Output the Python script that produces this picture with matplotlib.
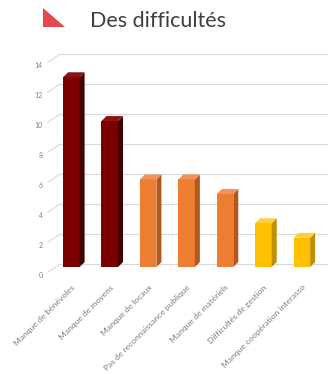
"""Bar chart with a fake 3D look: 'Des difficultés'."""
import matplotlib.pyplot as plt
from matplotlib.patches import Polygon
import matplotlib.transforms as mtransforms

categories = ["Manque de bénévoles", "Manque de moyens", "Manque de locaux",
              "Pas de reconnaissance publique", "Manque de matériels",
              "Difficultés de gestion", "Manque coopération interasso"]
values = [13, 10, 6, 6, 5, 3, 2]
front_colors = ["#7B0000", "#7B0000", "#ED7D31", "#ED7D31", "#ED7D31",
                "#FFC000", "#FFC000"]
side_colors = ["#420000", "#420000", "#B3571B", "#B3571B", "#B3571B",
               "#BF8F00", "#BF8F00"]
top_colors = ["#8E1010", "#8E1010", "#F0925A", "#F0925A", "#F0925A",
              "#FFCF40", "#FFCF40"]
yticks = [0, 2, 4, 6, 8, 10, 12, 14]

plt.rcParams["font.family"] = ["Lato", "DejaVu Sans"]

fig = plt.figure(figsize=(3.28, 3.74), dpi=100)
fig.patch.set_facecolor("white")
ax = fig.add_axes([0.146, 0.286, 0.854, 0.5465])

W = 0.43     # bar width
DX = 0.13    # depth offset in x (data units)
DY = 0.34    # depth offset in y (data units)
xs = list(range(len(values)))

ax.set_xlim(-0.61, 6.68)
ax.set_ylim(0, 14)

# back wall grid + slanted ticks
x0 = 0.043
blend = mtransforms.blended_transform_factory(ax.transAxes, ax.transData)
for v in yticks:
    g = v * 1.027 + 0.2          # wall sits slightly behind the bars
    ax.plot([x0, 1.0], [g, g], transform=blend,
            color="#D9D9D9", lw=0.8, zorder=0, clip_on=False)
    ax.plot([0.0, x0], [g - 0.75 + 0.2, g], transform=blend,
            color="#D9D9D9", lw=0.8, zorder=0, clip_on=False)
    ax.text(-0.018, g - 0.75, str(v), transform=blend, ha="right",
            va="center", fontsize=5, color="#808080")

bars = ax.bar(xs, values, width=W, color=front_colors, zorder=3,
              edgecolor="none", clip_on=False)
for x, v, sc, tc in zip(xs, values, side_colors, top_colors):
    r = x + W / 2
    l = x - W / 2
    ax.add_patch(Polygon([(r, 0), (r + DX, DY), (r + DX, v + DY), (r, v)],
                         closed=True, facecolor=sc, edgecolor="none",
                         zorder=3, clip_on=False))
    ax.add_patch(Polygon([(l, v), (l + DX, v + DY), (r + DX, v + DY), (r, v)],
                         closed=True, facecolor=tc, edgecolor="none",
                         zorder=3, clip_on=False))

ax.set_xticks(xs)
ax.set_xticklabels(categories, rotation=45, ha="right",
                   rotation_mode="anchor", fontsize=6.1, color="#7F7F7F")
ax.tick_params(axis="x", length=0, pad=12)
ax.set_yticks([])
for s in ax.spines.values():
    s.set_visible(False)

# title with red triangle marker
fig.add_artist(Polygon([(43 / 328, 1 - 8 / 374), (43 / 328, 1 - 27 / 374),
                        (65 / 328, 1 - 27 / 374)], closed=True,
                       facecolor="#E5484D", edgecolor="none",
                       transform=fig.transFigure))
fig.text(90 / 328, 1 - 21 / 374, "Des difficultés", fontsize=15.5,
         color="#404040", ha="left", va="center")

fig.savefig("out.png", dpi=100)
